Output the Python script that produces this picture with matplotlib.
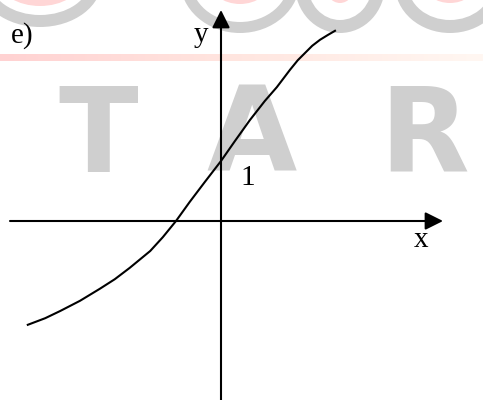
import matplotlib
matplotlib.use("Agg")
import matplotlib.pyplot as plt
import numpy as np
from matplotlib.patches import Ellipse
from matplotlib.colors import LinearSegmentedColormap

# curve (1 unit = the "1" mark on the y axis)
curve_x = [-3.22, -2.93, -2.68, -2.35, -2.02, -1.77, -1.52, -1.18, -0.97, -0.75,
           -0.52, -0.27, 0.00, 0.23, 0.48, 0.73, 0.93, 1.15, 1.28, 1.40,
           1.52, 1.65, 1.78, 1.90]
curve_y = [-1.73, -1.62, -1.50, -1.33, -1.13, -0.97, -0.78, -0.50, -0.27, 0.00,
           0.32, 0.65, 1.00, 1.33, 1.68, 2.00, 2.23, 2.52, 2.68, 2.80,
           2.92, 3.02, 3.10, 3.17]

axis_labels = ["x", "y"]
tick_label = "1"
panel_label = "e)"
watermark = ["T", "A", "R"]

PX = 60.0          # pixels per unit
OX, OY = 221, 221  # origin in pixels from the top-left


def p2d(px, py):
    """pixel position (from top-left) -> data coords"""
    return (px - OX) / PX, (OY - py) / PX


fig = plt.figure(figsize=(4.83, 4.0), dpi=100)
ax = fig.add_axes([0, 0, 1, 1])
ax.set_xlim(-OX / PX, (483 - OX) / PX)
ax.set_ylim(-(400 - OY) / PX, OY / PX)
ax.axis("off")

# watermark: ring bottoms at the top edge
gray = "#cfcfcf"
pink = "#ffd6d6"
rings = [(40, -20, 62, 47, 12, 21), (240, -20, 60, 53, 11, 29),
         (340, -15, 45, 48, 13, 30), (450, -15, 55, 48, 13, 30)]
for cx, cy, a, b, g, p in rings:
    c = p2d(cx, cy)
    ax.add_patch(Ellipse(c, 2 * a / PX, 2 * b / PX, color=gray, lw=0, zorder=0))
    ax.add_patch(Ellipse(c, 2 * (a - g) / PX, 2 * (b - g) / PX, color="white", lw=0, zorder=0))
    ax.add_patch(Ellipse(c, 2 * (a - p) / PX, 2 * (b - p) / PX, color=pink, lw=0, zorder=0))

# pink band
band = LinearSegmentedColormap.from_list("band", ["#ffd2d2", "#ffe6e0", "#fff7f2"])
x0, y0 = p2d(0, 61)
x1, y1 = p2d(483, 55)
ax.imshow(np.linspace(0, 1, 200)[None, :], cmap=band, aspect="auto",
          extent=(x0, x1, y0, y1), zorder=0)

# big gray letters
for letter, cxp in zip(watermark, [98, 252, 424]):
    x, y = p2d(cxp, 172)
    ax.text(x, y, letter, ha="center", va="baseline", fontsize=84,
            fontweight="bold", family="DejaVu Sans", color=gray, zorder=0)

# axes with arrows
arrow = dict(arrowstyle="-|>,head_length=0.6,head_width=0.3", lw=1.5,
             color="black", mutation_scale=18, shrinkA=0, shrinkB=0)
ax.annotate("", xy=p2d(443, OY), xytext=p2d(10, OY), arrowprops=arrow, zorder=2)
ax.annotate("", xy=p2d(OX, 10), xytext=p2d(OX, 405), arrowprops=arrow, zorder=2)

ax.plot(curve_x, curve_y, color="black", lw=1.5, zorder=3,
        solid_joinstyle="round")

serif = dict(family="Liberation Serif", fontsize=21, va="baseline", ha="left", zorder=4)
ax.text(*p2d(414, 247), axis_labels[0], **serif)
ax.text(*p2d(194, 42), axis_labels[1], **serif)
ax.text(*p2d(240, 185), tick_label, **serif)
ax.text(*p2d(11, 43), panel_label, **serif)

fig.savefig("out.png", dpi=100)
